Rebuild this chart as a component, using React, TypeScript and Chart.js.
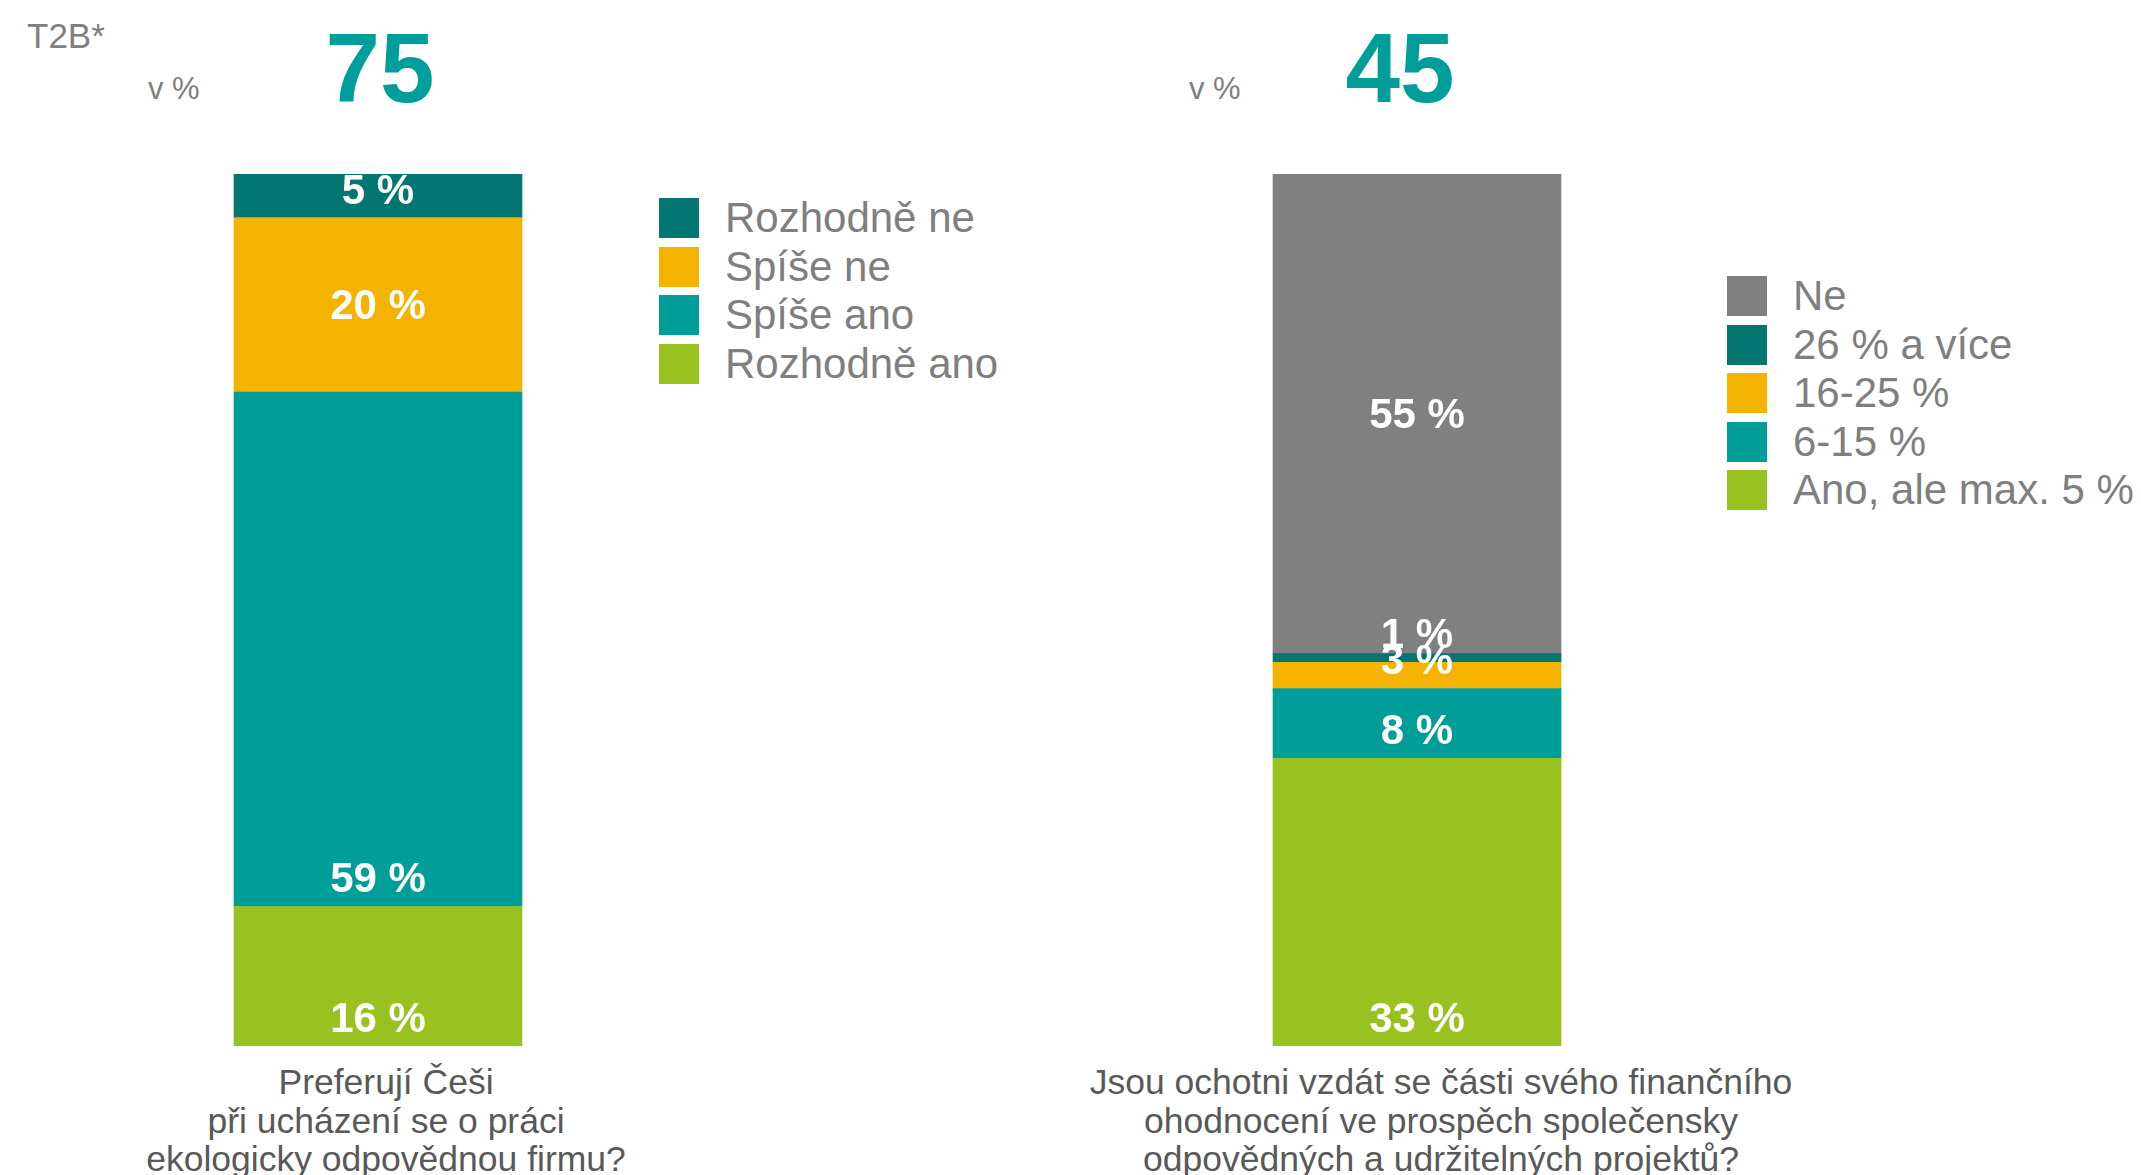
import React, { useEffect, useRef } from "react";
import { Chart, registerables } from "chart.js";

Chart.register(...registerables);

// ---------- DATA ----------
// Left chart (stack order: bottom -> top)
const leftCategory = ["Preferují Češi při ucházení se o práci ekologicky odpovědnou firmu?"];
const leftSeries = ["Rozhodně ano", "Spíše ano", "Spíše ne", "Rozhodně ne"];
const leftValues = [16, 59, 20, 5];
const leftT2B = "75";
const leftCaption = ["Preferují Češi", "při ucházení se o práci", "ekologicky odpovědnou firmu?"];

// Right chart (stack order: bottom -> top)
const rightCategory = ["Jsou ochotni vzdát se části svého finančního ohodnocení ve prospěch společensky odpovědných a udržitelných projektů?"];
const rightSeries = ["Ano, ale max. 5 %", "6-15 %", "16-25 %", "26 % a více", "Ne"];
const rightValues = [33, 8, 3, 1, 55];
const rightT2B = "45";
const rightCaption = [
  "Jsou ochotni vzdát se části svého finančního",
  "ohodnocení ve prospěch společensky",
  "odpovědných a udržitelných projektů?",
];

// ---------- STYLES ----------
const FONT = "'Liberation Sans', Arial, Helvetica, sans-serif";
const leftColors = ["#98c21f", "#009d99", "#f5b301", "#037671"];
const rightColors = ["#98c21f", "#009d99", "#f5b301", "#037671", "#808080"];
const leftAnchors = ["base", "base", "center", "base"];
const rightAnchors = ["base", "base", "base", "base", "center"];

const CHART_TOP = 174;
const CHART_H = 872;
const CANVAS_W = 488;

const labelPlugin = (anchors: string[]) => ({
  id: "segLabels",
  afterDatasetsDraw(chart: any) {
    const ctx = chart.ctx;
    ctx.save();
    ctx.font = `bold 42px ${FONT}`;
    ctx.fillStyle = "#ffffff";
    ctx.textAlign = "center";
    ctx.textBaseline = "alphabetic";
    chart.data.datasets.forEach((ds: any, i: number) => {
      const meta = chart.getDatasetMeta(i);
      meta.data.forEach((el: any, j: number) => {
        const v = ds.data[j];
        if (v == null) return;
        const p = el.getProps(["x", "y", "base"], true);
        const cy = anchors[i] === "center" ? (p.y + p.base) / 2 : p.base - 28;
        ctx.fillText(`${v} %`, p.x, cy + 14);
      });
    });
    ctx.restore();
  },
});

function StackChart(props: {
  left: number;
  category: string[];
  series: string[];
  values: number[];
  colors: string[];
  anchors: string[];
}) {
  const ref = useRef<HTMLCanvasElement | null>(null);
  useEffect(() => {
    if (!ref.current) return;
    const chart = new Chart(ref.current, {
      type: "bar",
      data: {
        labels: props.category,
        datasets: props.series.map((s, i) => ({
          label: s,
          data: [props.values[i]],
          backgroundColor: props.colors[i],
          borderWidth: 0,
          barThickness: 288,
        })),
      },
      options: {
        animation: false,
        responsive: false,
        maintainAspectRatio: false,
        layout: { padding: 0 },
        scales: {
          x: { stacked: true, display: false },
          y: { stacked: true, display: false, min: 0, max: 100 },
        },
        plugins: {
          legend: { display: false },
          tooltip: { enabled: false },
        },
      },
      plugins: [labelPlugin(props.anchors)],
    } as any);
    return () => chart.destroy();
  }, []);
  return (
    <canvas
      ref={ref}
      width={CANVAS_W}
      height={CHART_H}
      style={{
        position: "absolute",
        left: props.left,
        top: CHART_TOP,
        width: CANVAS_W,
        height: CHART_H,
      }}
    />
  );
}

function Txt(props: {
  x: number;
  baseline: number;
  size: number;
  color: string;
  bold?: boolean;
  center?: boolean;
  children: React.ReactNode;
}) {
  const top = props.baseline - 0.8465 * props.size;
  return (
    <div
      style={{
        position: "absolute",
        left: props.center ? props.x - 500 : props.x,
        width: props.center ? 1000 : undefined,
        top,
        fontFamily: FONT,
        fontSize: props.size,
        lineHeight: `${props.size}px`,
        fontWeight: props.bold ? 700 : 400,
        color: props.color,
        textAlign: props.center ? "center" : "left",
        whiteSpace: "nowrap",
      }}
    >
      {props.children}
    </div>
  );
}

function Legend(props: { x: number; firstCenter: number; labels: string[]; colors: string[] }) {
  return (
    <>
      {props.labels.map((l, i) => {
        const c = props.firstCenter + i * 48.5;
        return (
          <React.Fragment key={l}>
            <div
              style={{
                position: "absolute",
                left: props.x,
                top: c - 20,
                width: 40,
                height: 40,
                background: props.colors[i],
              }}
            />
            <Txt x={props.x + 66} baseline={c + 15} size={42} color="#7f7f7f">
              {l}
            </Txt>
          </React.Fragment>
        );
      })}
    </>
  );
}

function Caption(props: { x: number; top: number; lines: string[] }) {
  return (
    <div
      style={{
        position: "absolute",
        left: props.x - 600,
        width: 1200,
        top: props.top,
        fontFamily: FONT,
        fontSize: 35.5,
        lineHeight: "38.5px",
        color: "#595959",
        textAlign: "center",
        whiteSpace: "nowrap",
      }}
    >
      {props.lines.map((l) => (
        <div key={l}>{l}</div>
      ))}
    </div>
  );
}

export default function App() {
  useEffect(() => {
    document.body.style.margin = "0";
  }, []);
  return (
    <div
      style={{
        position: "absolute",
        left: 0,
        top: 0,
        width: 2141,
        height: 1175,
        overflow: "hidden",
        background: "#ffffff",
      }}
    >
      <Txt x={27} baseline={48} size={35} color="#7f7f7f">
        T2B*
      </Txt>
      <Txt x={148} baseline={99} size={31} color="#7f7f7f">
        v %
      </Txt>
      <Txt x={380} baseline={102} size={98} color="#009e9a" bold center>
        {leftT2B}
      </Txt>
      <Txt x={1189} baseline={99} size={31} color="#7f7f7f">
        v %
      </Txt>
      <Txt x={1400} baseline={102} size={98} color="#009e9a" bold center>
        {rightT2B}
      </Txt>

      <StackChart
        left={134}
        category={leftCategory}
        series={leftSeries}
        values={leftValues}
        colors={leftColors}
        anchors={leftAnchors}
      />
      <StackChart
        left={1173}
        category={rightCategory}
        series={rightSeries}
        values={rightValues}
        colors={rightColors}
        anchors={rightAnchors}
      />

      <Legend
        x={659}
        firstCenter={218}
        labels={[...leftSeries].reverse()}
        colors={[...leftColors].reverse()}
      />
      <Legend
        x={1727}
        firstCenter={296}
        labels={[...rightSeries].reverse()}
        colors={[...rightColors].reverse()}
      />

      <Caption x={386} top={1063} lines={leftCaption} />
      <Caption x={1441} top={1063} lines={rightCaption} />
    </div>
  );
}
